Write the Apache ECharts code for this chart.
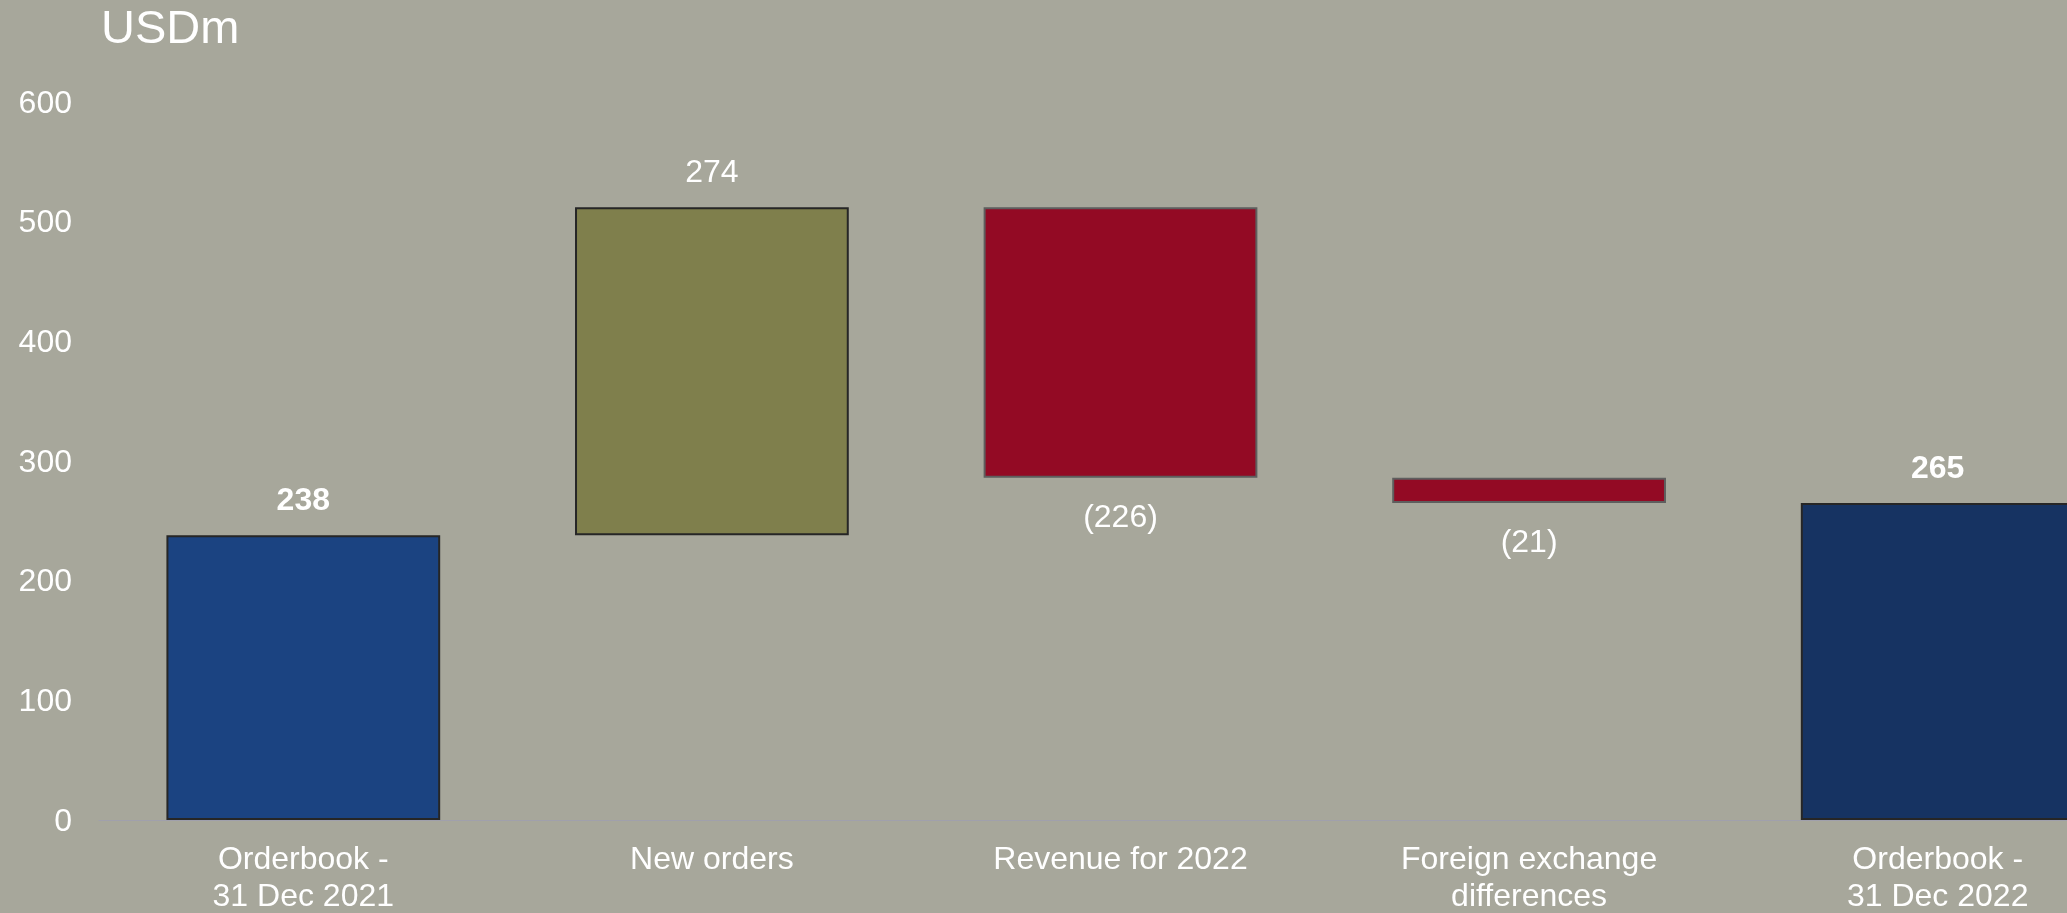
<!DOCTYPE html>
<html>
<head>
<meta charset="utf-8">
<title>Orderbook bridge</title>
<script src="https://cdn.jsdelivr.net/npm/echarts@6/dist/echarts.min.js"></script>
<style>
  html, body { margin: 0; padding: 0; background: #A7A79B; overflow: hidden; }
  /* the last category runs past the right edge of the page */
  #chart { width: 2142px; height: 913px; }
</style>
</head>
<body>
<div id="chart"></div>
<script>
// Orderbook movement, USDm
const categories = ['Orderbook -\n31 Dec 2021', 'New orders', 'Revenue for 2022', 'Foreign exchange\ndifferences', 'Orderbook -\n31 Dec 2022'];
const changes = [238, 274, -226, -21, 265];
const kinds = ['total', 'delta', 'delta', 'delta', 'total'];
const yTicks = { min: 0, max: 600, interval: 100 };

const fills = ['#1B4381', '#7F7F4C', '#930A24', '#930A24', '#163362'];
const borders = ['#262626', '#262626', '#5E5E5E', '#5E5E5E', '#262626'];

// Floating bars: an invisible base plus the visible step
const base = [];
const step = [];
let running = 0;
changes.forEach((v, i) => {
  if (kinds[i] === 'total') {
    base.push(0);
    step.push(v);
    running = v;
  } else if (v >= 0) {
    base.push(running);
    step.push(v);
    running += v;
  } else {
    running += v;
    base.push(running);
    step.push(-v);
  }
});

const fmt = v => (v < 0 ? '(' + Math.abs(v) + ')' : String(v));
const font = 'Liberation Sans, Arial, sans-serif';

const chart = echarts.init(document.getElementById('chart'));
chart.setOption({
  backgroundColor: '#A7A79B',
  animation: false,
  title: {
    text: 'USDm',
    left: 96,
    top: 2,
    textStyle: { color: '#FFFFFF', fontFamily: font, fontSize: 47, fontWeight: 'normal' }
  },
  grid: { left: 99, right: 0, top: 102, bottom: 93, containLabel: false, outerBoundsMode: 'none' },
  xAxis: {
    type: 'category',
    data: categories,
    axisLine: { show: true, lineStyle: { color: '#A0A0AC', width: 1 } },
    axisTick: { show: false },
    axisLabel: {
      color: '#FFFFFF', fontFamily: font, fontSize: 32, lineHeight: 37, margin: 22, interval: 0
    }
  },
  yAxis: {
    type: 'value',
    min: yTicks.min,
    max: yTicks.max,
    interval: yTicks.interval,
    splitLine: { show: false },
    axisLine: { show: false },
    axisTick: { show: false },
    // a short line box hung from the tick puts the digits a touch below it
    axisLabel: {
      color: '#FFFFFF', fontFamily: font, fontSize: 32, margin: 27,
      verticalAlign: 'top', lineHeight: 4
    }
  },
  series: [
    {
      type: 'bar',
      stack: 'bridge',
      barWidth: '67%',
      silent: true,
      itemStyle: { color: 'transparent' },
      data: base
    },
    {
      type: 'bar',
      stack: 'bridge',
      barWidth: '67%',
      data: step.map((v, i) => ({
        value: v,
        itemStyle: { color: fills[i], borderColor: borders[i], borderWidth: 2 },
        label: {
          show: true,
          position: changes[i] < 0 ? 'bottom' : 'top',
          distance: changes[i] < 0 ? 24 : 18,
          formatter: () => fmt(changes[i]),
          color: '#FFFFFF',
          fontFamily: font,
          fontSize: 32,
          fontWeight: kinds[i] === 'total' ? 'bold' : 'normal'
        }
      }))
    }
  ]
});
</script>
</body>
</html>
